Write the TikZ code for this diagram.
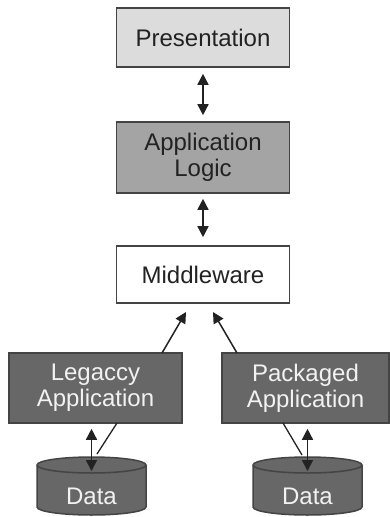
\documentclass[tikz,border=0pt]{standalone}
\usepackage{fontspec}
\setmainfont{Liberation Sans}
\usepackage{tikz}
\usetikzlibrary{arrows.meta}
\definecolor{lightbox}{HTML}{DCDCDC}
\definecolor{midbox}{HTML}{A4A4A4}
\definecolor{darkbox}{HTML}{676767}
\definecolor{rim}{HTML}{444444}
\definecolor{ink}{HTML}{222222}
\definecolor{paleink}{HTML}{F2F2F2}
\tikzstyle{diagram}=[x=1pt, y=-1pt, font=\fontsize{24}{26}\selectfont, line width=1.6pt]
\tikzstyle{layer}=[rectangle, draw=rim, align=center, inner sep=0pt, minimum width=173pt, text=ink]
\tikzstyle{lbox}=[layer, fill=lightbox, minimum height=59pt]
\tikzstyle{mbox}=[layer, fill=midbox, minimum height=71pt]
\tikzstyle{wbox}=[layer, fill=white, minimum height=57pt]
\tikzstyle{dbox}=[layer, fill=darkbox, minimum height=70pt, text=paleink]
\tikzstyle{db}=[draw=rim, fill=darkbox, line width=1.5pt]
\tikzstyle{dbtext}=[inner sep=0pt, text=paleink]
\tikzstyle{edge}=[draw=ink, line width=1.5pt, -{Triangle[width=11pt,length=11pt]}]
\tikzstyle{twoway}=[draw=ink, line width=1.5pt, {Triangle[width=11pt,length=11pt]}-{Triangle[width=11pt,length=11pt]}]
\tikzstyle{wire}=[draw=ink, line width=1.3pt]

\begin{document}
\begin{tikzpicture}[diagram]
	\useasboundingbox (0,0) rectangle (390,517);

	%The layers
	\draw (203,37.5) node[lbox] (pres) {Presentation};
	\draw (203,157.5) node[mbox] (logic) {Application\\Logic};
	\draw (203,274.5) node[wbox] (mw) {Middleware};

	\draw[twoway, shorten <=6pt, shorten >=6pt] (pres) -- (logic);
	\draw[twoway, shorten <=5pt, shorten >=8pt] (logic) -- (mw);

	%The applications
	\draw (95.5,388) node[dbox] (legacy) {Legaccy\\Application};
	\draw (305.5,388) node[dbox, minimum width=167pt] (packaged) {Packaged\\Application};

	\coordinate (out1) at (162,353);
	\coordinate (out2) at (237,353);
	\coordinate (in1) at (186,312);
	\coordinate (in2) at (213,312);
	\draw[edge] (out1) -- (in1);
	\draw[edge] (out2) -- (in2);

	%The data stores
	\foreach \cx in {91.5, 307.5}
	{
		\draw[db] (\cx-54.5,465) -- (\cx-54.5,507)
			arc[start angle=180, end angle=0, x radius=54.5, y radius=8]
			-- (\cx+54.5,465)
			arc[start angle=0, end angle=-180, x radius=54.5, y radius=8] -- cycle;
		\draw[db, fill=none] (\cx-54.5,465)
			arc[start angle=180, end angle=0, x radius=54.5, y radius=8];
	}
	\draw (91.5,496) node[dbtext] (data1) {Data};
	\draw (307.5,496) node[dbtext] (data2) {Data};

	\coordinate (q1) at (91.5,471);
	\coordinate (q2) at (307.5,471);
	\draw[twoway, shorten <=5pt] (legacy.south -| q1) -- (q1);
	\draw[twoway, shorten <=5pt] (packaged.south -| q2) -- (q2);

	\coordinate (w1a) at (117,423);
	\coordinate (w1b) at (97,454);
	\coordinate (w2a) at (283,423);
	\coordinate (w2b) at (302,455);
	\draw[wire] (w1a) -- (w1b);
	\draw[wire] (w2a) -- (w2b);
\end{tikzpicture}
\end{document}
